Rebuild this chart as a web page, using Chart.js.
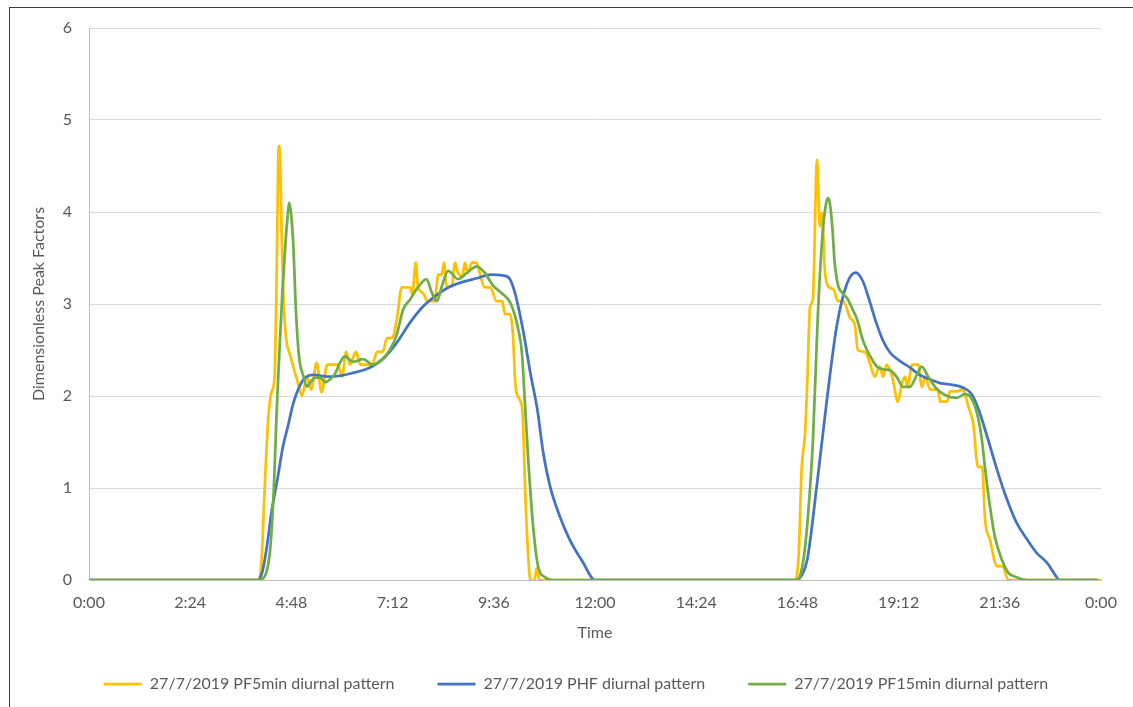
<!DOCTYPE html>
<html>
<head>
<meta charset="utf-8">
<script src="https://cdn.jsdelivr.net/npm/chart.js@4.4.1/dist/chart.umd.min.js"></script>
<style>
  html, body { margin: 0; padding: 0; background: #ffffff; overflow: hidden; }
  #wrap { position: relative; width: 1133px; height: 707px; }
  #frame { position: absolute; left: 9px; top: 7px; width: 1200px; height: 800px;
           border: 1px solid #3a3a3a; box-sizing: border-box; pointer-events: none; }
  #chart { position: absolute; left: 0; top: 0; }
</style>
</head>
<body>
<div id="wrap">
  <div id="frame"></div>
  <canvas id="chart" width="1133" height="707"></canvas>
</div>
<script>
// Time of day in minutes after midnight, with the peak factor read at that time.
const pf5Minutes = [0, 240, 245, 250, 255, 260, 264, 267, 270, 272, 274, 277, 281, 286, 292, 297,
  303, 310, 316, 324, 331, 339, 354, 360, 366, 371, 380, 386, 403, 410, 418, 424, 431, 438, 445,
  457, 460, 465, 468, 475, 482, 492, 497, 502, 505, 509, 516, 521, 525, 531, 535, 539, 545, 551,
  556, 563, 571, 580, 588, 592, 599, 603, 607, 613, 617, 621, 625, 628, 634, 637, 641,
  1005, 1010, 1014, 1019, 1022, 1026, 1030, 1036, 1040, 1043, 1047, 1052, 1059, 1066, 1073, 1083,
  1090, 1094, 1104, 1111, 1118, 1125, 1130, 1135, 1143, 1151, 1157, 1161, 1165, 1171, 1180, 1185,
  1190, 1197, 1208, 1211, 1221, 1225, 1235, 1242, 1246, 1251, 1258, 1265, 1271, 1275, 1282, 1292,
  1300, 1308, 1440];
const pf5Values = [0, 0, 0.15, 1.0, 1.75, 2.05, 2.2, 3.3, 4.72, 4.55, 3.8, 3.0, 2.6, 2.45, 2.28, 2.15,
  2.0, 2.21, 2.07, 2.36, 2.04, 2.34, 2.34, 2.21, 2.48, 2.34, 2.48, 2.34, 2.34, 2.48, 2.48, 2.63, 2.63, 2.83, 3.18,
  3.18, 3.1, 3.45, 3.19, 3.12, 3.03, 3.03, 3.32, 3.32, 3.45, 3.19, 3.19, 3.45, 3.34, 3.3, 3.45, 3.34, 3.45, 3.45,
  3.34, 3.18, 3.18, 3.03, 3.03, 2.89, 2.89, 2.7, 2.1, 1.96, 1.8, 0.9, 0.25, 0, 0, 0.13, 0,
  0, 0.3, 1.2, 1.6, 2.14, 2.97, 3.05, 4.57, 3.84, 3.99, 3.37, 3.19, 3.16, 3.03, 3.03, 2.85,
  2.76, 2.5, 2.48, 2.36, 2.21, 2.32, 2.21, 2.34, 2.21, 1.94, 2.14, 2.21, 2.1, 2.34, 2.34, 2.1,
  2.21, 2.07, 2.07, 1.94, 1.94, 2.05, 2.05, 2.07, 2.04, 1.89, 1.71, 1.23, 1.23, 0.66, 0.44, 0.15,
  0.15, 0, 0];

const phfMinutes = [0, 240, 247, 253, 260, 268, 276, 283, 290, 296, 305, 312, 320, 330, 343, 357,
  375, 390, 400, 418, 438, 457, 475, 495, 514, 532, 552, 571, 589, 599, 605, 610, 618, 628, 638,
  646, 656, 670, 684, 703, 720,
  1007, 1014, 1022, 1036, 1050, 1064, 1079, 1091, 1101, 1110, 1120, 1130, 1140, 1154, 1168, 1182,
  1197, 1211, 1229, 1244, 1256, 1266, 1278, 1292, 1306, 1320, 1335, 1349, 1363, 1377, 1380, 1435];
const phfValues = [0, 0, 0.1, 0.36, 0.75, 1.09, 1.45, 1.67, 1.9, 2.04, 2.18, 2.22, 2.23, 2.22, 2.21, 2.22,
  2.25, 2.28, 2.31, 2.4, 2.58, 2.8, 2.97, 3.1, 3.19, 3.24, 3.28, 3.32, 3.31, 3.27, 3.15, 3.0, 2.7, 2.25, 1.85,
  1.4, 1.02, 0.69, 0.44, 0.19, 0,
  0, 0.05, 0.22, 1.05, 1.96, 2.76, 3.23, 3.34, 3.25, 3.05, 2.8, 2.6, 2.47, 2.38, 2.31, 2.23,
  2.18, 2.14, 2.12, 2.09, 2.02, 1.85, 1.56, 1.2, 0.88, 0.62, 0.44, 0.29, 0.19, 0.03, 0, 0];

const pf15Minutes = [0, 240, 248, 253, 258, 263, 267, 271, 275, 279, 282, 285, 288, 291, 294, 297,
  300, 305, 310, 315, 322, 329, 336, 343, 350, 357, 364, 376, 390, 404, 417, 428, 438, 447, 457,
  468, 480, 488, 495, 502, 511, 525, 538, 552, 563, 575, 587, 599, 605, 610, 616, 620, 625, 632,
  639, 649, 660,
  1007, 1012, 1018, 1022, 1026, 1030, 1037, 1044, 1049, 1052, 1055, 1058, 1061, 1066, 1072, 1079,
  1086, 1093, 1101, 1107, 1114, 1121, 1130, 1140, 1150, 1158, 1168, 1178, 1185, 1194, 1207, 1221,
  1235, 1246, 1256, 1264, 1270, 1276, 1282, 1289, 1299, 1308, 1320, 1335, 1435];
const pf15Values = [0, 0, 0.02, 0.1, 0.35, 1.0, 1.82, 2.5, 3.1, 3.6, 3.9, 4.1, 3.95, 3.6, 3.0, 2.6,
  2.36, 2.22, 2.1, 2.15, 2.2, 2.2, 2.15, 2.18, 2.24, 2.36, 2.43, 2.37, 2.4, 2.34, 2.4, 2.5, 2.67, 2.94, 3.05,
  3.18, 3.27, 3.12, 3.03, 3.19, 3.36, 3.27, 3.34, 3.41, 3.34, 3.2, 3.12, 3.02, 2.9, 2.75, 2.47, 1.96, 1.31, 0.58,
  0.15, 0.03, 0,
  0, 0.05, 0.3, 0.6, 1.0, 1.5, 2.86, 3.78, 4.1, 4.15, 4.05, 3.8, 3.45, 3.2, 3.12, 3.06,
  2.95, 2.83, 2.61, 2.5, 2.4, 2.32, 2.29, 2.28, 2.2, 2.1, 2.1, 2.23, 2.32, 2.21, 2.07, 2.0,
  1.98, 2.02, 1.97, 1.8, 1.55, 1.15, 0.8, 0.47, 0.22, 0.08, 0.03, 0, 0];

// Axis tick labels, one every 2 h 24 min across the day.
const timeTickLabels = ['0:00', '2:24', '4:48', '7:12', '9:36', '12:00', '14:24', '16:48', '19:12', '21:36', '0:00'];
const seriesNames = ['27/7/2019 PF5min diurnal pattern', '27/7/2019 PHF diurnal pattern', '27/7/2019 PF15min diurnal pattern'];

const toPoints = (minutes, values) => minutes.map((m, i) => ({ x: m, y: values[i] }));

Chart.defaults.font.family = 'Lato, "Noto Sans", sans-serif';
Chart.defaults.font.size = 16;
Chart.defaults.color = '#595959';

const lineStyle = {
  pointRadius: 0,
  pointHoverRadius: 0,
  borderWidth: 2.75,
  cubicInterpolationMode: 'monotone',
  fill: false
};

new Chart(document.getElementById('chart'), {
  type: 'line',
  data: {
    datasets: [
      Object.assign({ label: seriesNames[0], data: toPoints(pf5Minutes, pf5Values),
        borderColor: '#FFC000', backgroundColor: '#FFC000', order: 3 }, lineStyle),
      Object.assign({ label: seriesNames[1], data: toPoints(phfMinutes, phfValues),
        borderColor: '#4472C4', backgroundColor: '#4472C4', order: 2 }, lineStyle),
      Object.assign({ label: seriesNames[2], data: toPoints(pf15Minutes, pf15Values),
        borderColor: '#70AD47', backgroundColor: '#70AD47', order: 1 }, lineStyle)
    ]
  },
  options: {
    responsive: false,
    animation: false,
    devicePixelRatio: 1,
    events: [],
    layout: { padding: { left: 51, right: 32, top: 28, bottom: 5 } },
    scales: {
      x: {
        type: 'linear',
        min: 0,
        max: 1440,
        afterFit: (scale) => { scale.height = 53; },
        afterBuildTicks: (scale) => {
          scale.ticks = timeTickLabels.map((_, i) => ({ value: i * 144 }));
        },
        ticks: {
          autoSkip: false,
          maxRotation: 0,
          padding: 13,
          callback: (value) => timeTickLabels[Math.round(value / 144)]
        },
        grid: { display: false, drawTicks: false },
        border: { display: true, color: '#bfbfbf', width: 1 },
        title: { display: true, text: 'Time', color: '#595959', font: { size: 16 },
                 padding: { top: 0, bottom: -9.6 } }
      },
      y: {
        min: 0,
        max: 6,
        afterFit: (scale) => { scale.width = 38; },
        ticks: { stepSize: 1, padding: 17 },
        grid: { color: '#d9d9d9', lineWidth: 1, drawTicks: false },
        border: { display: true, color: '#bfbfbf', width: 1 },
        title: { display: true, text: 'Dimensionless Peak Factors', color: '#595959', font: { size: 16 },
                 padding: { top: -22.1, bottom: 0 } }
      }
    },
    plugins: {
      tooltip: { enabled: false },
      legend: {
        position: 'bottom',
        labels: {
          usePointStyle: true,
          pointStyle: 'line',
          pointStyleWidth: 38,
          padding: 43,
          color: '#595959',
          font: { size: 16 },
          sort: (a, b) => a.datasetIndex - b.datasetIndex
        }
      }
    }
  }
});
</script>
</body>
</html>
